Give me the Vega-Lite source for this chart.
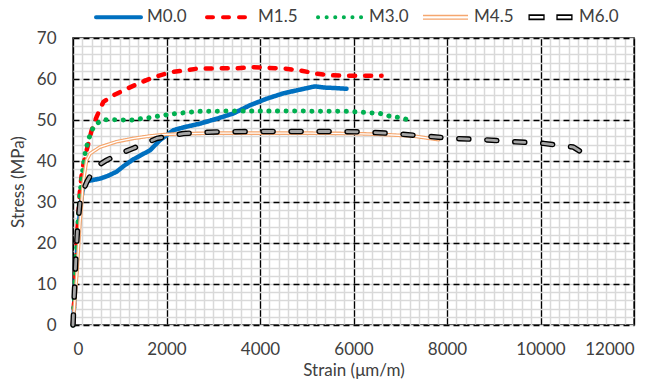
{
  "$schema": "https://vega.github.io/schema/vega-lite/v6.json",
  "width": 561,
  "height": 287,
  "autosize": {"type": "none"},
  "padding": {"left": 73, "top": 38, "right": 25, "bottom": 63},
  "background": "white",
  "config": {
    "font": "Lato",
    "view": {"stroke": "black", "strokeWidth": 1.5},
    "axis": {
      "labelFont": "Lato", "labelFontSize": 17, "labelColor": "#404040",
      "titleFont": "Lato", "titleFontSize": 17, "titleFontWeight": "normal", "titleColor": "#404040",
      "ticks": false, "domain": false
    },
    "legend": {"labelFont": "Lato"}
  },
  "data": {
    "values": [
      {"series": "M0.0", "strain": 0, "stress": 0},
      {"series": "M0.0", "strain": 50, "stress": 10},
      {"series": "M0.0", "strain": 100, "stress": 20},
      {"series": "M0.0", "strain": 150, "stress": 28},
      {"series": "M0.0", "strain": 200, "stress": 32.5},
      {"series": "M0.0", "strain": 257, "stress": 34.9},
      {"series": "M0.0", "strain": 400, "stress": 35.3},
      {"series": "M0.0", "strain": 578, "stress": 35.7},
      {"series": "M0.0", "strain": 750, "stress": 36.4},
      {"series": "M0.0", "strain": 934, "stress": 37.4},
      {"series": "M0.0", "strain": 1100, "stress": 38.9},
      {"series": "M0.0", "strain": 1290, "stress": 40.4},
      {"series": "M0.0", "strain": 1450, "stress": 41.4},
      {"series": "M0.0", "strain": 1647, "stress": 42.6},
      {"series": "M0.0", "strain": 1861, "stress": 45.1},
      {"series": "M0.0", "strain": 2146, "stress": 47.5},
      {"series": "M0.0", "strain": 2400, "stress": 48.3},
      {"series": "M0.0", "strain": 2717, "stress": 49.1},
      {"series": "M0.0", "strain": 3073, "stress": 50.3},
      {"series": "M0.0", "strain": 3430, "stress": 51.6},
      {"series": "M0.0", "strain": 3786, "stress": 53.6},
      {"series": "M0.0", "strain": 4143, "stress": 55.2},
      {"series": "M0.0", "strain": 4499, "stress": 56.5},
      {"series": "M0.0", "strain": 4856, "stress": 57.4},
      {"series": "M0.0", "strain": 5176, "stress": 58.2},
      {"series": "M0.0", "strain": 5390, "stress": 57.9},
      {"series": "M0.0", "strain": 5600, "stress": 57.8},
      {"series": "M0.0", "strain": 5850, "stress": 57.6},

      {"series": "M1.5", "strain": 0, "stress": 0},
      {"series": "M1.5", "strain": 50, "stress": 12},
      {"series": "M1.5", "strain": 100, "stress": 24},
      {"series": "M1.5", "strain": 150, "stress": 33},
      {"series": "M1.5", "strain": 200, "stress": 38},
      {"series": "M1.5", "strain": 292, "stress": 42.6},
      {"series": "M1.5", "strain": 399, "stress": 47.5},
      {"series": "M1.5", "strain": 506, "stress": 50.8},
      {"series": "M1.5", "strain": 649, "stress": 54.4},
      {"series": "M1.5", "strain": 862, "stress": 56},
      {"series": "M1.5", "strain": 1112, "stress": 57.4},
      {"series": "M1.5", "strain": 1362, "stress": 58.7},
      {"series": "M1.5", "strain": 1611, "stress": 59.9},
      {"series": "M1.5", "strain": 1861, "stress": 60.9},
      {"series": "M1.5", "strain": 2111, "stress": 61.7},
      {"series": "M1.5", "strain": 2646, "stress": 62.5},
      {"series": "M1.5", "strain": 3100, "stress": 62.6},
      {"series": "M1.5", "strain": 3500, "stress": 62.6},
      {"series": "M1.5", "strain": 3857, "stress": 62.9},
      {"series": "M1.5", "strain": 4200, "stress": 62.7},
      {"series": "M1.5", "strain": 4550, "stress": 62.5},
      {"series": "M1.5", "strain": 4856, "stress": 62.1},
      {"series": "M1.5", "strain": 5213, "stress": 61.3},
      {"series": "M1.5", "strain": 5497, "stress": 60.9},
      {"series": "M1.5", "strain": 6000, "stress": 60.8},
      {"series": "M1.5", "strain": 6600, "stress": 60.8},

      {"series": "M3.0", "strain": 0, "stress": 0},
      {"series": "M3.0", "strain": 50, "stress": 12},
      {"series": "M3.0", "strain": 100, "stress": 24},
      {"series": "M3.0", "strain": 150, "stress": 32},
      {"series": "M3.0", "strain": 200, "stress": 37},
      {"series": "M3.0", "strain": 260, "stress": 42},
      {"series": "M3.0", "strain": 328, "stress": 45.1},
      {"series": "M3.0", "strain": 399, "stress": 47.5},
      {"series": "M3.0", "strain": 506, "stress": 49.1},
      {"series": "M3.0", "strain": 649, "stress": 50.1},
      {"series": "M3.0", "strain": 1255, "stress": 50},
      {"series": "M3.0", "strain": 1647, "stress": 50.6},
      {"series": "M3.0", "strain": 2075, "stress": 51.4},
      {"series": "M3.0", "strain": 2646, "stress": 52.1},
      {"series": "M3.0", "strain": 3500, "stress": 52.2},
      {"series": "M3.0", "strain": 4500, "stress": 52.2},
      {"series": "M3.0", "strain": 5900, "stress": 52.1},
      {"series": "M3.0", "strain": 6567, "stress": 51.6},
      {"series": "M3.0", "strain": 6781, "stress": 50.9},
      {"series": "M3.0", "strain": 6995, "stress": 50.6},
      {"series": "M3.0", "strain": 7187, "stress": 50},

      {"series": "M4.5", "strain": 0, "stress": 0},
      {"series": "M4.5", "strain": 80, "stress": 12},
      {"series": "M4.5", "strain": 150, "stress": 25},
      {"series": "M4.5", "strain": 200, "stress": 32},
      {"series": "M4.5", "strain": 221, "stress": 34.9},
      {"series": "M4.5", "strain": 292, "stress": 40.2},
      {"series": "M4.5", "strain": 364, "stress": 41.8},
      {"series": "M4.5", "strain": 578, "stress": 43.4},
      {"series": "M4.5", "strain": 934, "stress": 44.7},
      {"series": "M4.5", "strain": 1290, "stress": 45.5},
      {"series": "M4.5", "strain": 1647, "stress": 46.1},
      {"series": "M4.5", "strain": 2004, "stress": 46.5},
      {"series": "M4.5", "strain": 2500, "stress": 46.7},
      {"series": "M4.5", "strain": 3000, "stress": 46.8},
      {"series": "M4.5", "strain": 4000, "stress": 46.8},
      {"series": "M4.5", "strain": 5000, "stress": 46.8},
      {"series": "M4.5", "strain": 6000, "stress": 46.7},
      {"series": "M4.5", "strain": 6567, "stress": 46.5},
      {"series": "M4.5", "strain": 7273, "stress": 46.1},
      {"series": "M4.5", "strain": 7815, "stress": 45.2},

      {"series": "M6.0", "strain": 0, "stress": 0},
      {"series": "M6.0", "strain": 30, "stress": 8},
      {"series": "M6.0", "strain": 60, "stress": 16},
      {"series": "M6.0", "strain": 100, "stress": 24},
      {"series": "M6.0", "strain": 150, "stress": 30},
      {"series": "M6.0", "strain": 221, "stress": 32.9},
      {"series": "M6.0", "strain": 300, "stress": 35},
      {"series": "M6.0", "strain": 399, "stress": 37},
      {"series": "M6.0", "strain": 550, "stress": 39},
      {"series": "M6.0", "strain": 720, "stress": 40.2},
      {"series": "M6.0", "strain": 1000, "stress": 41.8},
      {"series": "M6.0", "strain": 1290, "stress": 43.1},
      {"series": "M6.0", "strain": 1790, "stress": 45.5},
      {"series": "M6.0", "strain": 2360, "stress": 46.7},
      {"series": "M6.0", "strain": 3073, "stress": 47.1},
      {"series": "M6.0", "strain": 4000, "stress": 47.2},
      {"series": "M6.0", "strain": 5000, "stress": 47.2},
      {"series": "M6.0", "strain": 5500, "stress": 47.2},
      {"series": "M6.0", "strain": 6210, "stress": 47.1},
      {"series": "M6.0", "strain": 6852, "stress": 46.7},
      {"series": "M6.0", "strain": 7494, "stress": 46.1},
      {"series": "M6.0", "strain": 8135, "stress": 45.5},
      {"series": "M6.0", "strain": 8777, "stress": 45.2},
      {"series": "M6.0", "strain": 9419, "stress": 44.7},
      {"series": "M6.0", "strain": 10060, "stress": 44.3},
      {"series": "M6.0", "strain": 10702, "stress": 43.4},
      {"series": "M6.0", "strain": 10900, "stress": 42},
      {"series": "M6.0", "strain": 11059, "stress": 39.8}
    ]
  },
  "encoding": {
    "x": {"field": "strain", "type": "quantitative", "scale": {"domain": [0, 12000], "nice": false}, "axis": null},
    "y": {"field": "stress", "type": "quantitative", "scale": {"domain": [0, 70], "nice": false}, "axis": null},
    "order": {"field": "strain", "type": "quantitative"}
  },
  "layer": [
    {
      "transform": [{"filter": "datum.series === 'M0.0'"}],
      "mark": {"type": "line", "strokeWidth": 4.5, "strokeCap": "round", "strokeJoin": "round"},
      "encoding": {
        "x": {
          "field": "strain", "type": "quantitative",
          "axis": {
            "orient": "bottom", "title": null, "labels": false, "grid": true,
            "gridColor": "#d9d9d9", "gridWidth": 1.5,
            "values": [0,200,400,600,800,1000,1200,1400,1600,1800,2000,2200,2400,2600,2800,3000,3200,3400,3600,3800,4000,4200,4400,4600,4800,5000,5200,5400,5600,5800,6000,6200,6400,6600,6800,7000,7200,7400,7600,7800,8000,8200,8400,8600,8800,9000,9200,9400,9600,9800,10000,10200,10400,10600,10800,11000,11200,11400,11600,11800,12000]
          }
        },
        "y": {
          "field": "stress", "type": "quantitative",
          "axis": {
            "orient": "left", "title": null, "labels": false, "grid": true,
            "gridColor": "#d9d9d9", "gridWidth": 1.5,
            "values": [0,2,4,6,8,10,12,14,16,18,20,22,24,26,28,30,32,34,36,38,40,42,44,46,48,50,52,54,56,58,60,62,64,66,68,70]
          }
        },
        "color": {
          "field": "series", "type": "nominal",
          "scale": {"range": ["#0070c0", "#ff0000", "#00b050", "#f5a66e", "#000000"]},
          "legend": {
            "orient": "none", "legendX": 21, "legendY": -45.5, "direction": "horizontal",
            "title": null, "symbolType": "stroke", "symbolSize": 2025, "symbolStrokeWidth": 4,
            "labelFontSize": 17, "labelColor": "#404040", "labelOffset": 4, "columnPadding": 12,
            "encode": {
              "symbols": {
                "update": {
                  "strokeCap": {"value": "round"},
                  "shape": {"signal": "datum.value === 'M4.5' ? 'M-1,-0.11H1V-0.05H-1Z M-1,0.05H1V0.11H-1Z' : datum.value === 'M6.0' ? 'M-0.98,-0.13H-0.26V0.13H-0.98Z M-0.92,-0.06V0.06H-0.32V-0.06Z M0.26,-0.13H0.98V0.13H0.26Z M0.32,-0.06V0.06H0.92V-0.06Z' : 'stroke'"},
                  "fill": {"signal": "datum.value === 'M4.5' ? '#f5a66e' : datum.value === 'M6.0' ? '#000000' : 'transparent'"},
                  "strokeOpacity": {"signal": "datum.value === 'M4.5' || datum.value === 'M6.0' ? 0 : 1"}
                }
              }
            }
          }
        },
        "strokeDash": {
          "field": "series", "type": "nominal",
          "scale": {"range": [[1, 0], [6, 10], [0.1, 8.5], [1, 0], [10, 18]]},
          "legend": null
        }
      }
    },
    {
      "transform": [{"filter": "datum.series === 'M1.5'"}],
      "mark": {"type": "line", "strokeWidth": 4.5, "strokeCap": "round", "strokeJoin": "round"},
      "encoding": {
        "color": {"field": "series", "type": "nominal"},
        "strokeDash": {"field": "series", "type": "nominal", "legend": null}
      }
    },
    {
      "transform": [{"filter": "datum.series === 'M3.0'"}],
      "mark": {"type": "line", "strokeWidth": 5, "strokeCap": "round", "strokeJoin": "round"},
      "encoding": {
        "color": {"field": "series", "type": "nominal"},
        "strokeDash": {"field": "series", "type": "nominal", "legend": null}
      }
    },
    {
      "transform": [{"filter": "datum.series === 'M4.5'"}],
      "mark": {"type": "line", "strokeWidth": 3.6, "strokeCap": "round", "strokeJoin": "round"},
      "encoding": {
        "color": {"field": "series", "type": "nominal"},
        "strokeDash": {"field": "series", "type": "nominal", "legend": null}
      }
    },
    {
      "transform": [{"filter": "datum.series === 'M4.5'"}],
      "mark": {"type": "line", "strokeWidth": 1.3, "strokeCap": "round", "strokeJoin": "round"},
      "encoding": {
        "stroke": {
          "field": "series", "type": "nominal",
          "scale": {
            "domain": ["M0.0", "M1.5", "M3.0", "M4.5", "M6.0"],
            "range": ["transparent", "transparent", "transparent", "#ffffff", "#a6a6a6"]
          },
          "legend": null
        }
      }
    },
    {
      "transform": [{"filter": "datum.series === 'M6.0'"}],
      "mark": {"type": "line", "strokeWidth": 5.5, "strokeCap": "round", "strokeJoin": "round"},
      "encoding": {
        "color": {"field": "series", "type": "nominal"},
        "strokeDash": {"field": "series", "type": "nominal", "legend": null}
      }
    },
    {
      "transform": [{"filter": "datum.series === 'M6.0'"}],
      "mark": {"type": "line", "strokeWidth": 2.8, "strokeCap": "round", "strokeJoin": "round", "strokeDash": [10, 18]},
      "encoding": {
        "stroke": {"field": "series", "type": "nominal", "legend": null},
        "x": {
          "field": "strain", "type": "quantitative",
          "axis": {
            "orient": "bottom", "title": "Strain (μm/m)", "grid": true,
            "gridColor": "#000000", "gridWidth": 1.3, "format": "d",
            "values": [0, 2000, 4000, 6000, 8000, 10000, 12000],
            "labelPadding": 16, "titlePadding": 5
          }
        },
        "y": {
          "field": "stress", "type": "quantitative",
          "axis": {
            "orient": "left", "title": "Stress (MPa)", "grid": true,
            "gridColor": "#000000", "gridWidth": 1.3, "gridDash": [6, 4],
            "values": [0, 10, 20, 30, 40, 50, 60, 70],
            "labelPadding": 17, "titlePadding": 9
          }
        }
      }
    }
  ],
  "resolve": {"axis": {"x": "independent", "y": "independent"}}
}
